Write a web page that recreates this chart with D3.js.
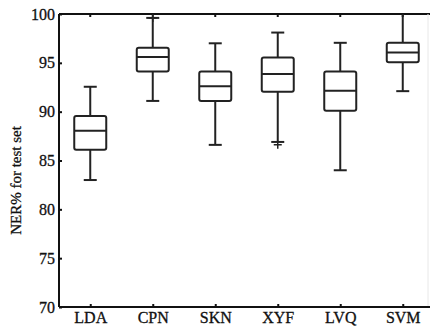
<!DOCTYPE html>
<html>
<head>
<meta charset="utf-8">
<script src="https://cdn.jsdelivr.net/npm/d3@7"></script>
<style>
  body { margin: 0; background: #fff; }
  text { font-family: 'Liberation Serif', 'Times New Roman', serif; fill: #111; }
</style>
</head>
<body>
<svg id="chart" width="430" height="329"></svg>
<script>
// box plot stats
var methods  = ["LDA", "CPN", "SKN", "XYF", "LVQ", "SVM"];
var lowWhisk = [83.0, 91.1, 86.6, 86.9, 84.0, 92.1];
var q1       = [86.1, 94.1, 91.1, 92.05, 90.1, 95.05];
var medians  = [88.05, 95.6, 92.6, 93.85, 92.15, 96.05];
var q3       = [89.55, 96.55, 94.1, 95.55, 94.1, 97.05];
var highWhisk= [92.55, 99.6, 97.0, 98.1, 97.05, 100];
var outliers = [[], [99.6], [], [86.6], [], []];
var yTicks   = [70, 75, 80, 85, 90, 95, 100];

var svg = d3.select("#chart");
var mLeft = 59, mRight = 434, mTop = 14, mBottom = 307;

var x = d3.scalePoint().domain(methods).range([mLeft, mRight]).padding(0.5);
var y = d3.scaleLinear().domain([70, 100]).range([mBottom, mTop]);

var data = methods.map(function(m, i) {
  return { name: m, lo: lowWhisk[i], q1: q1[i], med: medians[i], q3: q3[i], hi: highWhisk[i], out: outliers[i] };
});

// frame
svg.append("line").attr("x1", mLeft).attr("x2", 430).attr("y1", mTop).attr("y2", mTop)
  .attr("stroke", "#111").attr("stroke-width", 2);
svg.append("line").attr("x1", 428).attr("x2", 428).attr("y1", mTop).attr("y2", mBottom)
  .attr("stroke", "#e8e8e8").attr("stroke-width", 1);

var gy = svg.append("g").attr("transform", "translate(" + mLeft + ",0)")
  .call(d3.axisLeft(y).tickValues(yTicks).tickSize(-3).tickPadding(4));
var gx = svg.append("g").attr("transform", "translate(0," + mBottom + ")")
  .call(d3.axisBottom(x).tickSize(-3).tickPadding(5));

[gy, gx].forEach(function(g) {
  g.selectAll(".domain").attr("stroke", "#111").attr("stroke-width", 2);
  g.selectAll(".tick line").attr("stroke", "#111").attr("stroke-width", 2);
  g.selectAll("text").style("font-size", "16px").style("font-family", "'Liberation Serif', serif")
    .attr("fill", "#111").attr("stroke", "#111").attr("stroke-width", 0.3);
});
gx.select(".domain").attr("d", "M" + mLeft + ",0H430");
gy.select(".domain").attr("d", "M0," + mBottom + "V" + mTop);

// top ticks
svg.selectAll(".toptick").data(methods).enter().append("line")
  .attr("x1", function(d) { return x(d); }).attr("x2", function(d) { return x(d); })
  .attr("y1", mTop).attr("y2", mTop + 3).attr("stroke", "#111").attr("stroke-width", 2);

svg.append("text")
  .attr("transform", "translate(21," + ((mTop + mBottom) / 2 + 20) + ") rotate(-90)")
  .attr("text-anchor", "middle").style("font-size", "15px")
  .attr("stroke", "#111").attr("stroke-width", 0.3)
  .text("NER% for test set");

var boxW = 32, capW = 13;
var g = svg.selectAll(".box").data(data).enter().append("g")
  .attr("transform", function(d) { return "translate(" + x(d.name) + ",0)"; })
  .attr("stroke", "#222").attr("stroke-width", 2).attr("fill", "none");

g.append("line").attr("y1", function(d) { return y(d.lo); }).attr("y2", function(d) { return y(d.q1); });
g.append("line").attr("y1", function(d) { return y(d.q3); }).attr("y2", function(d) { return y(d.hi); });
g.append("line").attr("x1", -capW / 2).attr("x2", capW / 2)
  .attr("y1", function(d) { return y(d.lo); }).attr("y2", function(d) { return y(d.lo); });
g.filter(function(d) { return d.hi < 100; }).append("line").attr("x1", -capW / 2).attr("x2", capW / 2)
  .attr("y1", function(d) { return y(d.hi); }).attr("y2", function(d) { return y(d.hi); });
g.append("rect").attr("x", -boxW / 2).attr("width", boxW)
  .attr("y", function(d) { return y(d.q3); })
  .attr("height", function(d) { return y(d.q1) - y(d.q3); })
  .attr("rx", 2).attr("fill", "#fff");
g.append("line").attr("x1", -boxW / 2).attr("x2", boxW / 2)
  .attr("y1", function(d) { return y(d.med); }).attr("y2", function(d) { return y(d.med); });

// outlier plus marks
g.each(function(d) {
  var sel = d3.select(this);
  d.out.forEach(function(v) {
    sel.append("path").attr("d", "M-4," + y(v) + "h8M0," + (y(v) - 4) + "v8").attr("stroke-width", 1.5);
  });
});
</script>
</body>
</html>
